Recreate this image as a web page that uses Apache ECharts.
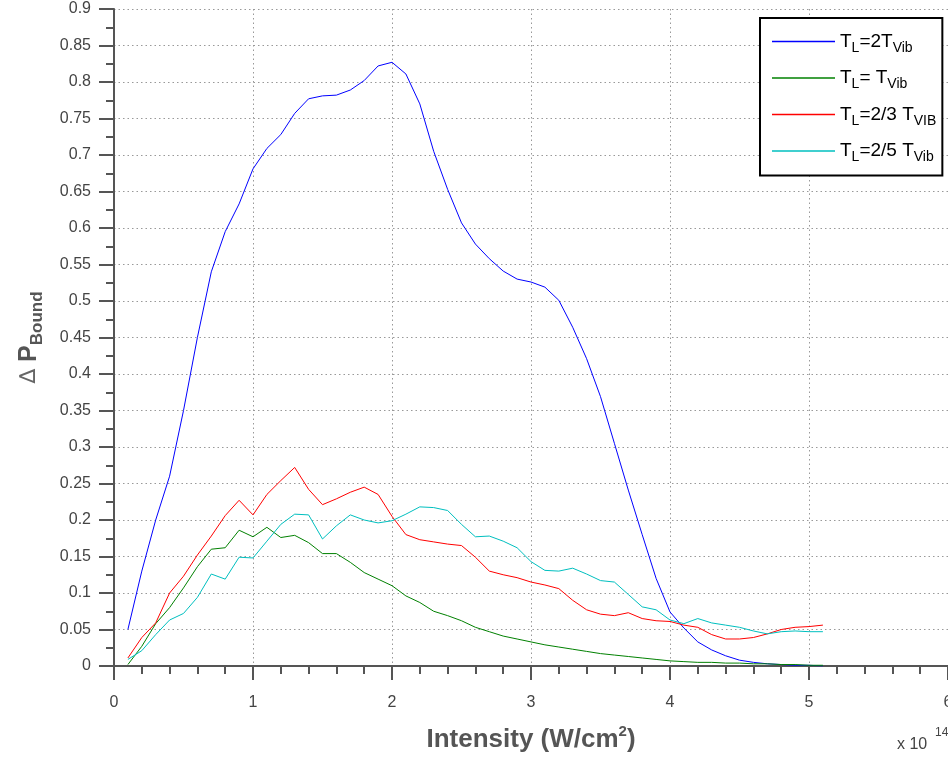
<!DOCTYPE html>
<html>
<head>
<meta charset="utf-8">
<script src="https://cdn.jsdelivr.net/npm/echarts@6/dist/echarts.min.js"></script>
<style>
html,body{margin:0;padding:0;background:#fff;overflow:hidden;width:948px;height:757px;}
#chart{width:948px;height:757px;}
</style>
</head>
<body>
<div id="chart"></div>
<script>
// Intensity (x 10^14 W/cm^2)
var intensity = [0.1,0.2,0.3,0.4,0.5,0.6,0.7,0.8,0.9,1.0,1.1,1.2,1.3,1.4,1.5,1.6,1.7,1.8,1.9,2.0,2.1,2.2,2.3,2.4,2.5,2.6,2.7,2.8,2.9,3.0,3.1,3.2,3.3,3.4,3.5,3.6,3.7,3.8,3.9,4.0,4.1,4.2,4.3,4.4,4.5,4.6,4.7,4.8,4.9,5.0,5.1];
var seriesNames = ['TL=2TVib','TL=TVib','TL=2/3 TVIB','TL=2/5 TVib'];
var tl2T = [0.05,0.13,0.20,0.26,0.35,0.45,0.54,0.595,0.633,0.681,0.709,0.728,0.757,0.777,0.781,0.782,0.789,0.802,0.822,0.827,0.811,0.77,0.705,0.653,0.607,0.578,0.558,0.541,0.530,0.526,0.519,0.501,0.464,0.421,0.369,0.305,0.241,0.18,0.12,0.074,0.052,0.033,0.022,0.014,0.008,0.005,0.003,0.002,0.001,0.001,0.0];
var tlT = [0.002,0.027,0.058,0.08,0.107,0.136,0.16,0.162,0.186,0.177,0.19,0.176,0.179,0.169,0.154,0.154,0.142,0.128,0.119,0.11,0.096,0.087,0.075,0.069,0.062,0.053,0.047,0.041,0.037,0.033,0.029,0.026,0.023,0.020,0.017,0.015,0.013,0.011,0.009,0.007,0.006,0.005,0.005,0.004,0.004,0.003,0.003,0.002,0.002,0.001,0.001];
var tl23 = [0.011,0.039,0.059,0.10,0.123,0.152,0.178,0.206,0.227,0.207,0.235,0.254,0.272,0.242,0.221,0.229,0.238,0.245,0.235,0.205,0.18,0.173,0.17,0.167,0.165,0.149,0.13,0.125,0.121,0.115,0.111,0.106,0.09,0.077,0.071,0.069,0.073,0.065,0.062,0.061,0.056,0.053,0.043,0.037,0.037,0.039,0.044,0.050,0.053,0.054,0.056];
var tl25 = [0.009,0.021,0.043,0.063,0.072,0.094,0.126,0.119,0.149,0.148,0.171,0.194,0.208,0.207,0.174,0.192,0.207,0.200,0.196,0.199,0.208,0.218,0.217,0.213,0.194,0.177,0.178,0.171,0.162,0.143,0.131,0.130,0.134,0.126,0.117,0.115,0.098,0.081,0.077,0.063,0.058,0.065,0.059,0.056,0.053,0.048,0.044,0.047,0.048,0.047,0.047];
var seriesValues = [tl2T, tlT, tl23, tl25];
var seriesColors = ['#0000ff','#008000','#ff0000','#00bfbf'];
var legendRich = {
  'TL=2TVib': '{b|T}{s|L}{b|=2T}{s|Vib}',
  'TL=TVib': '{b|T}{s|L}{b|= T}{s|Vib}',
  'TL=2/3 TVIB': '{b|T}{s|L}{b|=2/3 T}{s|VIB}',
  'TL=2/5 TVib': '{b|T}{s|L}{b|=2/5 T}{s|Vib}'
};

var FONT = 'Liberation Sans';
var chart = echarts.init(document.getElementById('chart'), null, {renderer:'canvas', width: 948, height: 757});

function pairs(vals){ return intensity.map(function(x,i){ return [x, vals[i]]; }); }

var series = seriesNames.map(function(n, i){
  return {
    name: n, type: 'line', data: pairs(seriesValues[i]),
    symbol: 'none', showSymbol: false, smooth: false,
    lineStyle: {color: seriesColors[i], width: 1},
    itemStyle: {color: seriesColors[i]},
    emphasis: {disabled: true}, animation: false
  };
});

var option = {
  animation: false,
  backgroundColor: '#fff',
  grid: {left: 114, right: 0, top: 9, bottom: 91, containLabel: false, outerBoundsMode: 'none'},
  xAxis: {
    type: 'value', min: 0, max: 6, interval: 1,
    axisLine: {show: true, onZero: false, lineStyle: {color: '#555', width: 2}},
    axisTick: {show: true, inside: false, length: 14, lineStyle: {color: '#555', width: 2}},
    minorTick: {show: true, splitNumber: 5, length: 8, lineStyle: {color: '#555', width: 2}},
    axisLabel: {color: '#444', fontFamily: FONT, fontSize: 16, margin: 29, hideOverlap: false},
    splitLine: {show: true, lineStyle: {color: '#999', width: 1, type: [1.5, 3]}},
    name: '{b|Intensity (W/cm}{p|2}{b|)}',
    nameLocation: 'middle', nameGap: 58,
    nameTextStyle: {color: '#555', fontFamily: FONT, rich: {
      b: {fontSize: 26, fontWeight: 'bold', fontFamily: FONT, color: '#555', lineHeight: 32},
      p: {fontSize: 15, fontWeight: 'bold', fontFamily: FONT, color: '#555', lineHeight: 18, verticalAlign: 'top'}
    }}
  },
  yAxis: {
    type: 'value', min: 0, max: 0.9, interval: 0.05,
    axisLine: {show: true, onZero: false, lineStyle: {color: '#555', width: 2}},
    axisTick: {show: true, inside: false, length: 15, lineStyle: {color: '#555', width: 2}},
    minorTick: {show: true, splitNumber: 2, length: 8, lineStyle: {color: '#555', width: 2}},
    axisLabel: {color: '#444', fontFamily: FONT, fontSize: 16, margin: 23,
      formatter: function(v){ return String(+v.toFixed(2)); }},
    splitLine: {show: true, lineStyle: {color: '#999', width: 1, type: [1.5, 3]}},
    name: '{d|∆ }{b|P}{s|Bound}',
    nameLocation: 'middle', nameGap: 68, nameRotate: 90,
    nameTextStyle: {color: '#555', fontFamily: FONT, rich: {
      d: {fontSize: 22, fontFamily: 'DejaVu Sans', color: '#666', lineHeight: 34},
      b: {fontSize: 25, fontWeight: 'bold', fontFamily: FONT, color: '#555', lineHeight: 34},
      s: {fontSize: 17, fontWeight: 'bold', fontFamily: FONT, color: '#555', lineHeight: 20, verticalAlign: 'bottom'}
    }}
  },
  legend: {
    show: true, orient: 'vertical', left: 760, top: 18,
    backgroundColor: '#fff', borderColor: '#000', borderWidth: 2, borderRadius: 0,
    padding: [14, 6, 11, 12], itemGap: 13.5, itemWidth: 63, itemHeight: 1.5, itemTextGap: 6,
    icon: 'rect',
    data: seriesNames,
    formatter: function(n){ return legendRich[n]; },
    textStyle: {color: '#000', fontFamily: FONT, fontSize: 18, rich: {
      b: {fontSize: 19, fontFamily: FONT, color: '#000', lineHeight: 27},
      s: {fontSize: 14, fontFamily: FONT, color: '#000', lineHeight: 15, verticalAlign: 'bottom'}
    }}
  },
  graphic: [
    {type: 'text', left: 897, top: 737, style: {text: 'x 10', fontFamily: FONT, fontSize: 16, fill: '#444'}},
    {type: 'text', left: 935, top: 727, style: {text: '14', fontFamily: FONT, fontSize: 12, fill: '#444'}}
  ],
  series: series
};
chart.setOption(option);
</script>
</body>
</html>
